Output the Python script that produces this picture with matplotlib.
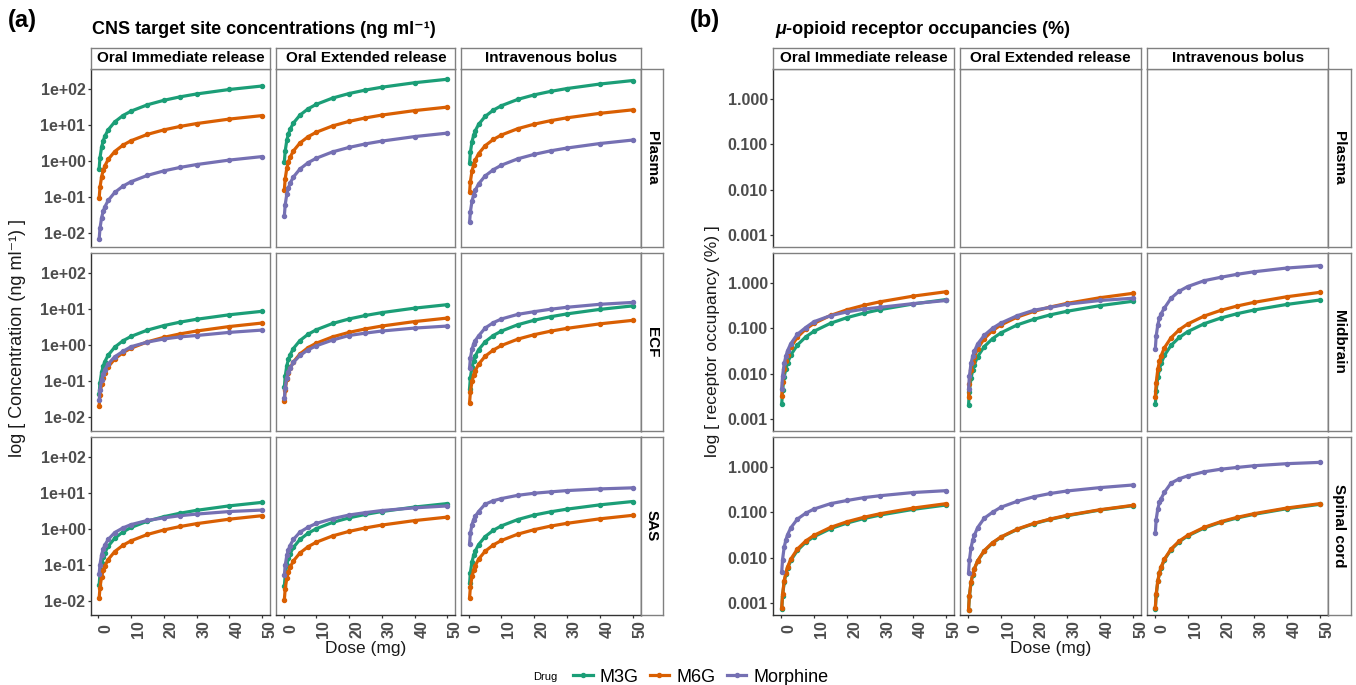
import matplotlib.pyplot as plt
from matplotlib.lines import Line2D
from matplotlib.ticker import NullLocator

plt.rcParams['font.family'] = ['Liberation Sans', 'DejaVu Sans']

# Doses (mg) used for every simulated curve
doses = [0.25, 0.5, 1, 1.5, 2, 3, 5, 7.5, 10, 15, 20, 25, 30, 40, 50]
dose_ticks = [0, 10, 20, 30, 40, 50]

drugs = ['M3G', 'M6G', 'Morphine']
drug_colors = ['#1B9E77', '#D95F02', '#7570B3']
routes = ['Oral Immediate release', 'Oral Extended release', 'Intravenous bolus']
conc_sites = ['Plasma', 'ECF', 'SAS']
occ_sites = ['Plasma', 'Midbrain', 'Spinal cord']

# ---- (a) concentrations, ng/ml ----
plasma_ir_m3g = [0.6, 1.2, 2.4, 3.6, 4.8, 7.2, 12, 18, 24, 36, 48, 60, 72, 96, 120]
plasma_ir_m6g = [0.09, 0.18, 0.36, 0.54, 0.72, 1.08, 1.8, 2.7, 3.6, 5.4, 7.2, 9.0, 10.8, 14.4, 18]
plasma_ir_mor = [0.0065, 0.013, 0.026, 0.039, 0.052, 0.078, 0.13, 0.195, 0.26, 0.39, 0.52, 0.65, 0.78, 1.04, 1.3]
plasma_er_m3g = [0.93, 1.85, 3.7, 5.55, 7.4, 11.1, 18.5, 27.8, 37, 55.5, 74, 92.5, 111, 148, 185]
plasma_er_m6g = [0.155, 0.31, 0.62, 0.93, 1.24, 1.86, 3.1, 4.65, 6.2, 9.3, 12.4, 15.5, 18.6, 24.8, 31]
plasma_er_mor = [0.029, 0.059, 0.117, 0.176, 0.234, 0.35, 0.585, 0.88, 1.17, 1.76, 2.34, 2.93, 3.51, 4.68, 5.85]
plasma_iv_m3g = [0.85, 1.7, 3.4, 5.1, 6.8, 10.2, 17, 25.5, 34, 51, 68, 85, 102, 136, 170]
plasma_iv_m6g = [0.13, 0.26, 0.52, 0.78, 1.04, 1.56, 2.6, 3.9, 5.2, 7.8, 10.4, 13, 15.6, 20.8, 26]
plasma_iv_mor = [0.019, 0.0375, 0.075, 0.113, 0.15, 0.225, 0.375, 0.56, 0.75, 1.13, 1.5, 1.88, 2.25, 3.0, 3.75]

ecf_ir_m3g = [0.0425, 0.085, 0.17, 0.255, 0.34, 0.51, 0.85, 1.28, 1.7, 2.55, 3.4, 4.25, 5.1, 6.8, 8.5]
ecf_ir_m6g = [0.02, 0.04, 0.08, 0.12, 0.16, 0.24, 0.4, 0.6, 0.8, 1.2, 1.6, 2.0, 2.4, 3.2, 4.0]
ecf_ir_mor = [0.028, 0.055, 0.105, 0.15, 0.2, 0.29, 0.46, 0.65, 0.88, 1.18, 1.44, 1.65, 1.8, 2.2, 2.55]
ecf_er_m3g = [0.065, 0.13, 0.26, 0.39, 0.52, 0.78, 1.3, 1.95, 2.6, 3.9, 5.2, 6.5, 7.8, 10.4, 13]
ecf_er_m6g = [0.0275, 0.055, 0.11, 0.165, 0.22, 0.33, 0.55, 0.83, 1.1, 1.65, 2.2, 2.75, 3.3, 4.4, 5.5]
ecf_er_mor = [0.032, 0.062, 0.12, 0.17, 0.22, 0.32, 0.5, 0.72, 0.93, 1.35, 1.8, 2.1, 2.4, 2.9, 3.3]
ecf_iv_m3g = [0.06, 0.12, 0.24, 0.36, 0.48, 0.72, 1.2, 1.8, 2.4, 3.6, 4.8, 6.0, 7.2, 9.6, 12]
ecf_iv_m6g = [0.024, 0.0475, 0.095, 0.143, 0.19, 0.285, 0.475, 0.71, 0.95, 1.43, 1.9, 2.38, 2.85, 3.8, 4.75]
ecf_iv_mor = [0.22, 0.42, 0.75, 1.05, 1.3, 1.75, 2.9, 4.1, 5.2, 7.0, 8.3, 9.7, 11.0, 13.3, 15.0]

sas_ir_m3g = [0.027, 0.054, 0.108, 0.162, 0.216, 0.324, 0.54, 0.81, 1.08, 1.62, 2.16, 2.7, 3.24, 4.32, 5.4]
sas_ir_m6g = [0.0115, 0.023, 0.046, 0.069, 0.092, 0.138, 0.23, 0.345, 0.46, 0.69, 0.92, 1.15, 1.38, 1.84, 2.3]
sas_ir_mor = [0.054, 0.1, 0.19, 0.27, 0.35, 0.5, 0.78, 1.05, 1.3, 1.7, 2.0, 2.3, 2.55, 3.0, 3.3]
sas_er_m3g = [0.025, 0.05, 0.1, 0.15, 0.2, 0.3, 0.5, 0.75, 1.0, 1.5, 2.0, 2.5, 3.0, 4.0, 5.0]
sas_er_m6g = [0.0105, 0.021, 0.042, 0.063, 0.084, 0.126, 0.21, 0.315, 0.42, 0.63, 0.84, 1.05, 1.26, 1.68, 2.1]
sas_er_mor = [0.05, 0.095, 0.18, 0.26, 0.34, 0.5, 0.8, 1.1, 1.4, 1.9, 2.4, 2.8, 3.2, 3.8, 4.3]
sas_iv_m3g = [0.03, 0.06, 0.12, 0.18, 0.24, 0.36, 0.6, 0.9, 1.2, 1.8, 2.4, 2.95, 3.5, 4.6, 5.7]
sas_iv_m6g = [0.0118, 0.0235, 0.047, 0.0705, 0.094, 0.141, 0.235, 0.353, 0.47, 0.705, 0.94, 1.18, 1.41, 1.88, 2.35]
sas_iv_mor = [0.38, 0.75, 1.3, 1.8, 2.2, 3.0, 4.8, 6.0, 6.9, 8.5, 9.7, 10.6, 11.5, 12.8, 13.7]

# ---- (b) receptor occupancy, % ----
mid_ir_m3g = [0.00215, 0.0043, 0.0086, 0.0129, 0.0172, 0.0258, 0.043, 0.0645, 0.086, 0.129, 0.172, 0.215, 0.258, 0.344, 0.43]
mid_ir_m6g = [0.0032, 0.0064, 0.0128, 0.0192, 0.0256, 0.0384, 0.064, 0.096, 0.128, 0.192, 0.256, 0.32, 0.384, 0.512, 0.64]
mid_ir_mor = [0.0045, 0.0088, 0.0168, 0.024, 0.032, 0.046, 0.074, 0.104, 0.14, 0.19, 0.23, 0.265, 0.29, 0.35, 0.41]
mid_er_m3g = [0.002, 0.004, 0.0079, 0.0119, 0.0158, 0.0237, 0.0395, 0.059, 0.079, 0.119, 0.158, 0.198, 0.237, 0.316, 0.395]
mid_er_m6g = [0.003, 0.0059, 0.0118, 0.0177, 0.0236, 0.0354, 0.059, 0.0885, 0.118, 0.177, 0.236, 0.295, 0.354, 0.472, 0.59]
mid_er_mor = [0.0045, 0.0087, 0.0168, 0.024, 0.031, 0.045, 0.07, 0.10, 0.13, 0.19, 0.25, 0.29, 0.34, 0.41, 0.46]
mid_iv_m3g = [0.0021, 0.0042, 0.0084, 0.0126, 0.0168, 0.0252, 0.042, 0.063, 0.084, 0.126, 0.168, 0.21, 0.252, 0.336, 0.42]
mid_iv_m6g = [0.0031, 0.0062, 0.0124, 0.0186, 0.0248, 0.0372, 0.062, 0.093, 0.124, 0.186, 0.248, 0.31, 0.372, 0.496, 0.62]
mid_iv_mor = [0.035, 0.067, 0.12, 0.17, 0.21, 0.28, 0.46, 0.66, 0.83, 1.12, 1.33, 1.55, 1.76, 2.13, 2.4]

sc_ir_m3g = [0.00073, 0.00145, 0.0029, 0.00435, 0.0058, 0.0087, 0.0145, 0.0218, 0.029, 0.0435, 0.058, 0.0725, 0.087, 0.116, 0.145]
sc_ir_m6g = [0.00078, 0.00155, 0.0031, 0.00465, 0.0062, 0.0093, 0.0155, 0.0233, 0.031, 0.0465, 0.062, 0.0775, 0.093, 0.124, 0.155]
sc_ir_mor = [0.0049, 0.0091, 0.0173, 0.0245, 0.032, 0.0455, 0.071, 0.0955, 0.118, 0.155, 0.182, 0.21, 0.232, 0.273, 0.30]
sc_er_m3g = [0.0007, 0.0014, 0.0028, 0.0042, 0.0056, 0.0084, 0.014, 0.021, 0.028, 0.042, 0.056, 0.07, 0.084, 0.112, 0.14]
sc_er_m6g = [0.00071, 0.00143, 0.00285, 0.00428, 0.0057, 0.00855, 0.0143, 0.0214, 0.0285, 0.0428, 0.057, 0.0713, 0.0855, 0.114, 0.1425]
sc_er_mor = [0.0046, 0.0087, 0.0166, 0.024, 0.031, 0.046, 0.074, 0.10, 0.129, 0.175, 0.22, 0.26, 0.295, 0.35, 0.40]
sc_iv_m3g = [0.00075, 0.0015, 0.003, 0.0045, 0.006, 0.009, 0.015, 0.0225, 0.03, 0.045, 0.06, 0.075, 0.09, 0.12, 0.15]
sc_iv_m6g = [0.00078, 0.00155, 0.0031, 0.00465, 0.0062, 0.0093, 0.0155, 0.0233, 0.031, 0.0465, 0.062, 0.0775, 0.093, 0.124, 0.155]
sc_iv_mor = [0.035, 0.069, 0.12, 0.166, 0.2, 0.276, 0.44, 0.55, 0.635, 0.78, 0.89, 0.975, 1.06, 1.18, 1.26]

conc_data = {
    ('Plasma', 0): [plasma_ir_m3g, plasma_ir_m6g, plasma_ir_mor],
    ('Plasma', 1): [plasma_er_m3g, plasma_er_m6g, plasma_er_mor],
    ('Plasma', 2): [plasma_iv_m3g, plasma_iv_m6g, plasma_iv_mor],
    ('ECF', 0): [ecf_ir_m3g, ecf_ir_m6g, ecf_ir_mor],
    ('ECF', 1): [ecf_er_m3g, ecf_er_m6g, ecf_er_mor],
    ('ECF', 2): [ecf_iv_m3g, ecf_iv_m6g, ecf_iv_mor],
    ('SAS', 0): [sas_ir_m3g, sas_ir_m6g, sas_ir_mor],
    ('SAS', 1): [sas_er_m3g, sas_er_m6g, sas_er_mor],
    ('SAS', 2): [sas_iv_m3g, sas_iv_m6g, sas_iv_mor],
}
occ_data = {
    ('Midbrain', 0): [mid_ir_m3g, mid_ir_m6g, mid_ir_mor],
    ('Midbrain', 1): [mid_er_m3g, mid_er_m6g, mid_er_mor],
    ('Midbrain', 2): [mid_iv_m3g, mid_iv_m6g, mid_iv_mor],
    ('Spinal cord', 0): [sc_ir_m3g, sc_ir_m6g, sc_ir_mor],
    ('Spinal cord', 1): [sc_er_m3g, sc_er_m6g, sc_er_mor],
    ('Spinal cord', 2): [sc_iv_m3g, sc_iv_m6g, sc_iv_mor],
}

conc_yticks = [1e-2, 1e-1, 1e0, 1e1, 1e2]
conc_ylabels = ['1e-02', '1e-01', '1e+00', '1e+01', '1e+02']
occ_yticks = [0.001, 0.01, 0.1, 1]
occ_ylabels = ['0.001', '0.010', '0.100', '1.000']

W, H = 1356, 685
BORDER = '#808080'
fig = plt.figure(figsize=(W / 100, H / 100), dpi=100)


def px_axes(x0, y0, w, h):
    # pixel box measured from the top-left corner
    return fig.add_axes([x0 / W, 1 - (y0 + h) / H, w / W, h / H])


def strip(x0, y0, w, h, text, rot=0):
    sax = px_axes(x0, y0, w, h)
    sax.set_xticks([])
    sax.set_yticks([])
    for s in sax.spines.values():
        s.set_color(BORDER)
        s.set_linewidth(1.0)
    sax.text(0.5, 0.5, text, ha='center', va='center', rotation=rot,
             fontsize=11, fontweight='bold', transform=sax.transAxes)


def facet_grid(col_x, col_w, row_y, row_h, sites, data, ylim, yticks, ylabels):
    for r, site in enumerate(sites):
        for c, route in enumerate(routes):
            ax = px_axes(col_x[c], row_y[r], col_w, row_h)
            ax.set_yscale('log')
            series = data.get((site, c))
            if series:
                for vals, color in zip(series, drug_colors):
                    ax.plot(doses, vals, color=color, lw=2.3, marker='o', ms=2.9,
                            solid_capstyle='round', solid_joinstyle='round')
            ax.set_xlim(-2.24, 52.5)
            ax.set_ylim(*ylim)
            ax.set_xticks(dose_ticks)
            ax.set_xticklabels([str(t) for t in dose_ticks])
            ax.set_yticks(yticks)
            ax.set_yticklabels(ylabels)
            ax.yaxis.set_minor_locator(NullLocator())
            ax.tick_params(axis='both', length=2.5, width=0.9, color='#333333',
                           labelsize=11.5, labelcolor='#4D4D4D')
            ax.tick_params(axis='y', pad=1.5)
            ax.tick_params(axis='x', pad=7.7)
            if c > 0:
                ax.tick_params(axis='y', left=False, labelleft=False)
            if r < len(sites) - 1:
                ax.tick_params(axis='x', bottom=False, labelbottom=False)
            for lab in ax.get_yticklabels():
                lab.set_fontweight('bold')
            for lab in ax.get_xticklabels():
                lab.set_fontweight('bold')
                lab.set_rotation(90)
                lab.set_rotation_mode('anchor')
                lab.set_ha('center')
                lab.set_va('top')
            for s in ax.spines.values():
                s.set_color(BORDER)
                s.set_linewidth(1.0)
            if c == 0:
                ax.spines['left'].set_color('#333333')
            if r == len(sites) - 1:
                ax.spines['bottom'].set_color('#333333')
            if c == 2:
                ax.spines['right'].set_color('black')
            if r == 0:
                strip(col_x[c], row_y[0] - 21.8, col_w, 21.8, route)
            if c == 2:
                strip(col_x[2] + col_w, row_y[r], 22.5, row_h, site, rot=-90)


rows = [69.3, 253.3, 437.3]
facet_grid([91, 276.2, 461.4], 179.3, rows, 177.5, conc_sites, conc_data,
           (4.0e-3, 3.5e2), conc_yticks, conc_ylabels)
facet_grid([773.5, 960.3, 1147.1], 181.0, rows, 177.5, occ_sites, occ_data,
           (5.5e-4, 4.5), occ_yticks, occ_ylabels)

# titles and axis labels
fig.text(8 / W, 1 - 20 / H, '(a)', fontsize=17, fontweight='bold', va='center')
fig.text(92 / W, 1 - 30 / H, 'CNS target site concentrations (ng ml⁻¹)',
         fontsize=13, fontweight='bold', va='center')
fig.text(690 / W, 1 - 20 / H, '(b)', fontsize=17, fontweight='bold', va='center')
fig.text(775 / W, 1 - 30 / H, 'μ', fontsize=13, fontweight='bold', style='italic', va='center')
fig.text(786 / W, 1 - 30 / H, '-opioid receptor occupancies (%)',
         fontsize=13, fontweight='bold', va='center')
fig.text(18 / W, 1 - 338 / H, 'log [ Concentration (ng ml⁻¹) ]', rotation=90,
         ha='center', va='center', fontsize=13, color='#1a1a1a')
fig.text(713 / W, 1 - 341 / H, 'log [ receptor occupancy (%) ]', rotation=90,
         ha='center', va='center', fontsize=12.5, color='#1a1a1a')
fig.text(366 / W, 1 - 648 / H, 'Dose (mg)', ha='center', va='center', fontsize=12.5, color='#1a1a1a')
fig.text(1051 / W, 1 - 648 / H, 'Dose (mg)', ha='center', va='center', fontsize=12.5, color='#1a1a1a')

# legend
fig.text(545 / W, 1 - 677 / H, 'Drug', ha='center', va='center', fontsize=8)
handles = [Line2D([], [], color=col, lw=2.3, marker='o', ms=2.9) for col in drug_colors]
fig.legend(handles, drugs, loc='center left', bbox_to_anchor=(560 / W, 1 - 677 / H),
           ncol=3, frameon=False, fontsize=13, handlelength=1.1, handletextpad=0.4,
           columnspacing=0.6, borderpad=0.2)

fig.savefig('out.png', dpi=100)
